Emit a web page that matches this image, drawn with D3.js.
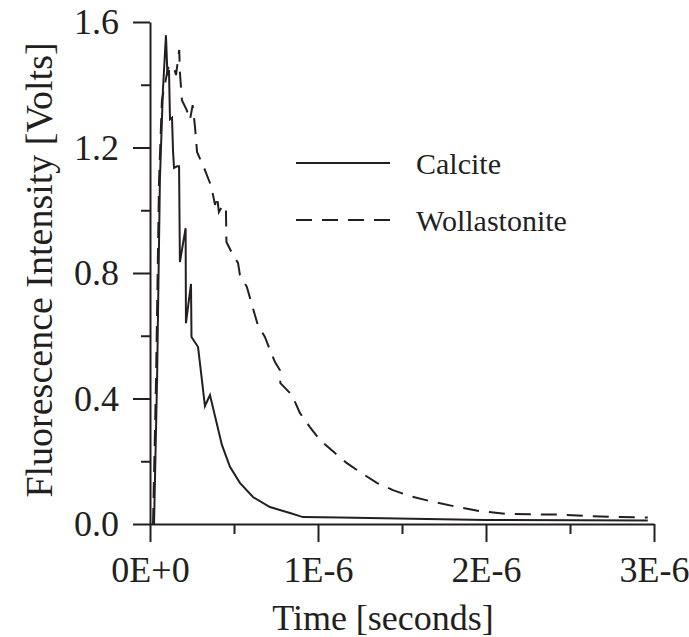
<!DOCTYPE html>
<html>
<head>
<meta charset="utf-8">
<script src="https://cdn.jsdelivr.net/npm/d3@7"></script>
<style>
    body { margin: 0; background: #ffffff; }
    svg text { font-family: "Liberation Serif", "Times New Roman", serif; fill: #231f20; }
</style>
</head>
<body>
<div id="chart"></div>
<script>
// time in microseconds, intensity in volts
const calciteTime = [0.024, 0.042, 0.059, 0.077, 0.095, 0.104, 0.113, 0.119, 0.131, 0.137, 0.143, 0.161, 0.173,
    0.178, 0.212, 0.214, 0.244, 0.247, 0.286, 0.309, 0.327, 0.357, 0.428, 0.476, 0.535, 0.613, 0.714, 0.833,
    0.910, 1.130, 1.993, 2.963];
const calciteValue = [0, 0.459, 1.097, 1.383, 1.558, 1.43, 1.447, 1.29, 1.295, 1.19, 1.135, 1.14, 1.14,
    0.835, 0.943, 0.64, 0.765, 0.596, 0.564, 0.459, 0.376, 0.411, 0.252, 0.182, 0.131, 0.086, 0.054, 0.035,
    0.022, 0.021, 0.013, 0.011];

const wollTime = [0.018, 0.036, 0.054, 0.071, 0.107, 0.137, 0.155, 0.174, 0.178, 0.190, 0.218, 0.238, 0.254,
    0.268, 0.280, 0.327, 0.357, 0.375, 0.387, 0.399, 0.410, 0.434, 0.452, 0.455, 0.494, 0.524, 0.535, 0.577,
    0.607, 0.642, 0.684, 0.714, 0.744, 0.773, 0.776, 0.845, 0.892, 0.952, 1.011, 1.101, 1.172, 1.249, 1.350,
    1.446, 1.547, 1.666, 1.814, 1.963, 2.112, 2.261, 2.439, 2.618, 2.796, 2.963];
const wollValue = [0, 0.459, 1.097, 1.351, 1.453, 1.463, 1.431, 1.511, 1.44, 1.351, 1.32, 1.288, 1.335,
    1.265, 1.186, 1.128, 1.087, 1.049, 1.017, 1.045, 0.994, 1.017, 1.001, 0.899, 0.857, 0.832, 0.794, 0.755,
    0.698, 0.634, 0.596, 0.555, 0.516, 0.491, 0.449, 0.411, 0.354, 0.309, 0.268, 0.226, 0.194, 0.166, 0.131,
    0.108, 0.089, 0.073, 0.056, 0.041, 0.033, 0.031, 0.030, 0.025, 0.022, 0.021];

const seriesNames = ["Calcite", "Wollastonite"];

const xTicks = [0, 1, 2, 3];
const xTickLabels = ["0E+0", "1E-6", "2E-6", "3E-6"];
const xMinorTicks = [0.5, 1.5, 2.5];
const yTicks = [0, 0.4, 0.8, 1.2, 1.6];
const yTickLabels = ["0.0", "0.4", "0.8", "1.2", "1.6"];
const yMinorTicks = [0.2, 0.6, 1.0, 1.4];

const width = 689;
const height = 637;
const ink = "#231f20";

const svg = d3.select("#chart").append("svg").attr("width", width).attr("height", height);

const xScale = d3.scaleLinear().domain([0, 3]).range([150, 654]);
const yScale = d3.scaleLinear().domain([0, 1.6]).range([524, 22]);

// minor ticks first, then major axes on top
svg.append("g")
    .attr("transform", "translate(0,524)")
    .call(d3.axisBottom(xScale).tickValues(xMinorTicks).tickSize(10).tickSizeOuter(0).tickFormat(""))
    .call(g => g.select(".domain").remove());
svg.append("g")
    .attr("transform", "translate(150,0)")
    .call(d3.axisLeft(yScale).tickValues(yMinorTicks).tickSize(9).tickSizeOuter(0).tickFormat(""))
    .call(g => g.select(".domain").remove());

const xAxis = svg.append("g")
    .attr("transform", "translate(0,524)")
    .call(d3.axisBottom(xScale).tickValues(xTicks).tickSize(18).tickSizeOuter(0).tickPadding(10)
        .tickFormat((d, i) => xTickLabels[i]));

const yAxis = svg.append("g")
    .attr("transform", "translate(150,0)")
    .call(d3.axisLeft(yScale).tickValues(yTicks).tickSize(17).tickSizeOuter(0).tickPadding(14)
        .tickFormat((d, i) => yTickLabels[i]));

svg.selectAll(".tick line").attr("stroke", ink).attr("stroke-width", 2);
svg.selectAll(".domain").attr("stroke", ink).attr("stroke-width", 2);
svg.selectAll(".tick text").attr("font-size", 36).attr("fill", ink)
    .style("font-family", "'Liberation Serif', serif");
xAxis.selectAll(".tick text").attr("dy", "0.83em");

svg.append("text")
    .attr("x", 383)
    .attr("y", 630)
    .attr("text-anchor", "middle")
    .attr("font-size", 36)
    .text("Time [seconds]");

svg.append("text")
    .attr("transform", "translate(52,270) rotate(-90)")
    .attr("text-anchor", "middle")
    .attr("font-size", 38)
    .text("Fluorescence Intensity [Volts]");

const line = d3.line()
    .x(d => xScale(d[0]))
    .y(d => yScale(d[1]));

const calcite = d3.zip(calciteTime, calciteValue);
const woll = d3.zip(wollTime, wollValue);

svg.append("path")
    .datum(woll)
    .attr("d", line)
    .attr("fill", "none")
    .attr("stroke", ink)
    .attr("stroke-width", 2)
    .attr("stroke-dasharray", "16,10");

svg.append("path")
    .datum(calcite)
    .attr("d", line)
    .attr("fill", "none")
    .attr("stroke", ink)
    .attr("stroke-width", 2);

// legend
const legend = svg.append("g");
const legendY = [163, 220];
seriesNames.forEach((name, i) => {
    legend.append("line")
        .attr("x1", 296).attr("x2", 390)
        .attr("y1", legendY[i]).attr("y2", legendY[i])
        .attr("stroke", ink)
        .attr("stroke-width", 2)
        .attr("stroke-dasharray", i == 1 ? "16,10" : null);
    legend.append("text")
        .attr("x", 416)
        .attr("y", legendY[i])
        .attr("dy", "0.35em")
        .attr("font-size", 30)
        .text(name);
});
</script>
</body>
</html>
